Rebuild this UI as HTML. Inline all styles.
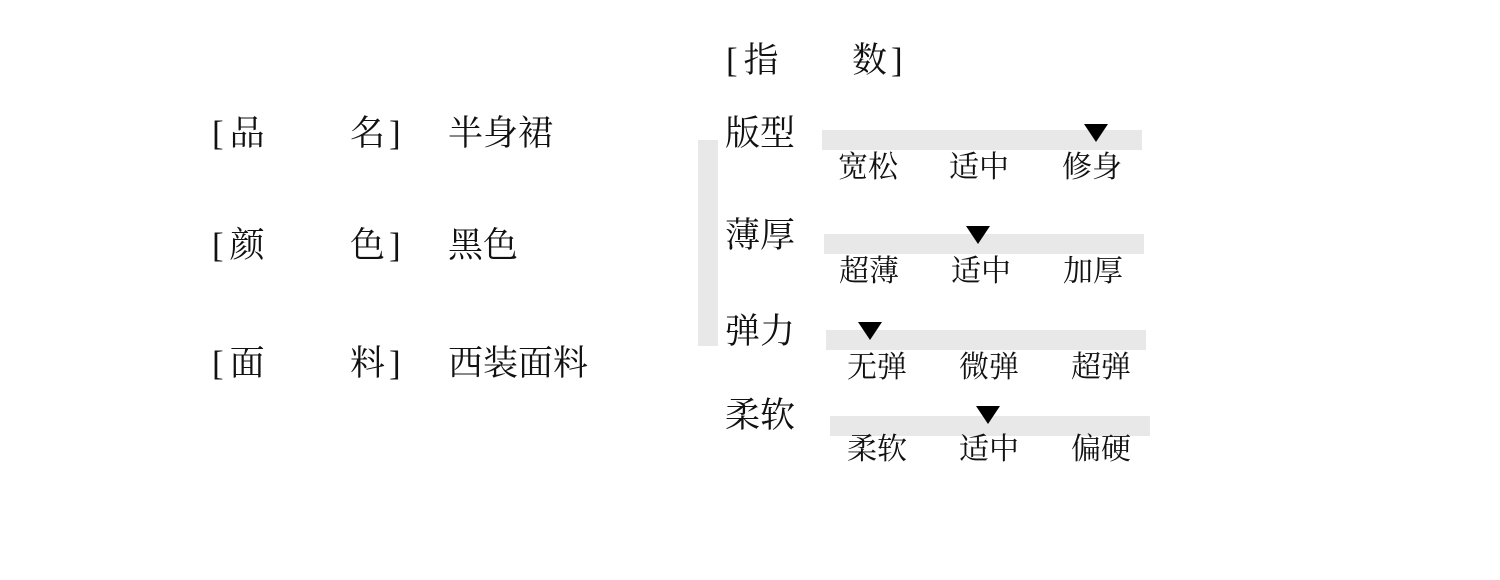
<!DOCTYPE html>
<html><head><meta charset="utf-8"><style>
body{margin:0;width:1500px;height:580px;background:#fff;position:relative;overflow:hidden;font-family:"Liberation Serif","Noto Serif CJK SC",serif;color:#111}
.t{position:absolute;white-space:nowrap;line-height:1}
.b{position:absolute;background:#e8e8e8;height:20px;width:320px}
.tri{position:absolute;width:0;height:0;border-left:12px solid transparent;border-right:12px solid transparent;border-top:18px solid #000}
.l{font-size:35px}
.s{font-size:30px}
.br{font-weight:300;margin-right:6px}
</style></head><body>
<div class="t l" style="left:212px;top:116px"><span class="br">[</span>品</div><div class="t l" style="left:350px;top:116px">名<span class="br" style="margin:0 0 0 4px">]</span></div><div class="t l" style="left:448px;top:116px">半身裙</div>
<div class="t l" style="left:212px;top:228px"><span class="br">[</span>颜</div><div class="t l" style="left:350px;top:228px">色<span class="br" style="margin:0 0 0 4px">]</span></div><div class="t l" style="left:448px;top:228px">黑色</div>
<div class="t l" style="left:212px;top:346px"><span class="br">[</span>面</div><div class="t l" style="left:350px;top:346px">料<span class="br" style="margin:0 0 0 4px">]</span></div><div class="t l" style="left:448px;top:346px">西装面料</div>
<div class="t l" style="left:726px;top:43px"><span class="br">[</span>指</div><div class="t l" style="left:852px;top:43px">数<span class="br" style="margin:0 0 0 4px">]</span></div>
<div style="position:absolute;left:698px;top:140px;width:20px;height:206px;background:#e8e8e8"></div>
<div class="t l" style="left:725px;top:116px">版型</div>
<div class="b" style="left:822px;top:130px"></div><div class="tri" style="left:1084px;top:124px"></div>
<div class="t s" style="left:838px;top:153px">宽松</div><div class="t s" style="left:949px;top:153px">适中</div><div class="t s" style="left:1062px;top:153px">修身</div>
<div class="t l" style="left:725px;top:218px">薄厚</div>
<div class="b" style="left:824px;top:234px"></div><div class="tri" style="left:966px;top:226px"></div>
<div class="t s" style="left:839px;top:257px">超薄</div><div class="t s" style="left:951px;top:257px">适中</div><div class="t s" style="left:1063px;top:257px">加厚</div>
<div class="t l" style="left:725px;top:314px">弹力</div>
<div class="b" style="left:826px;top:330px"></div><div class="tri" style="left:858px;top:322px"></div>
<div class="t s" style="left:847px;top:353px">无弹</div><div class="t s" style="left:959px;top:353px">微弹</div><div class="t s" style="left:1071px;top:353px">超弹</div>
<div class="t l" style="left:725px;top:398px">柔软</div>
<div class="b" style="left:830px;top:416px"></div><div class="tri" style="left:976px;top:406px"></div>
<div class="t s" style="left:847px;top:435px">柔软</div><div class="t s" style="left:959px;top:435px">适中</div><div class="t s" style="left:1071px;top:435px">偏硬</div>
</body></html>
